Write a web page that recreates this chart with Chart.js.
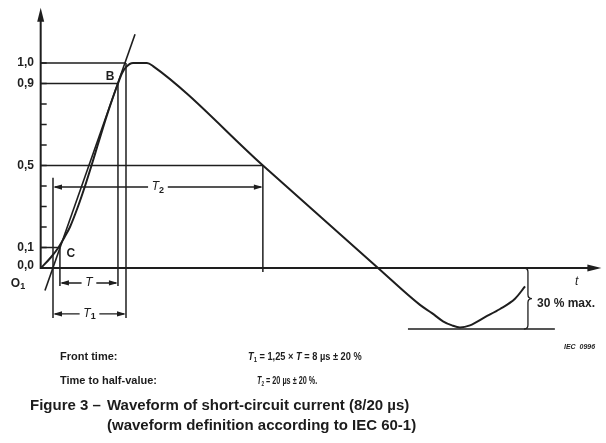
<!DOCTYPE html>
<html>
<head>
<meta charset="utf-8">
<script src="https://cdn.jsdelivr.net/npm/chart.js@4.4.1/dist/chart.umd.min.js"></script>
<style>
  body { margin: 0; background: #fff; }
  #wrap { position: relative; width: 606px; height: 443px; font-family: "Liberation Sans", Arial, sans-serif; color: #1c1c1c; }
  canvas { position: absolute; left: 0; top: 0; }
  .txt { position: absolute; white-space: nowrap; font-size: 11px; line-height: 13px; font-weight: bold; transform-origin: 0 50%; }
  .cap { position: absolute; white-space: nowrap; font-size: 15px; line-height: 17px; font-weight: bold; }
  .sub { font-size: 7px; position: relative; top: 2px; }
</style>
</head>
<body>
<div id="wrap">
  <canvas id="waveChart" width="606" height="443"></canvas>
  <div class="txt" style="left:60px;top:350px">Front time:</div>
  <div class="txt" style="left:248px;top:350px;transform:scaleX(0.84)"><i>T</i><span class="sub">1</span> = 1,25 × <i>T</i> = 8 µs ± 20 %</div>
  <div class="txt" style="left:60px;top:374px">Time to half-value:</div>
  <div class="txt" style="left:257px;top:374px;transform:scaleX(0.66)"><i>T</i><span class="sub">2</span> = 20 µs ± 20 %.</div>
  <div class="cap" style="left:30px;top:396px">Figure 3 –</div>
  <div class="cap" style="left:107px;top:396px">Waveform of short-circuit current (8/20 µs)</div>
  <div class="cap" style="left:107px;top:416px">(waveform definition according to IEC 60-1)</div>
</div>
<script>
// time in µs (O1 = 0), current in per-unit of peak
const waveT = [-1.32, -0.27, 0.6, 1.26, 1.86, 2.74, 3.51, 4.22, 4.9, 5.59, 6.32, 7.12, 7.56, 8.0,
  8.77, 9.53, 10.3, 10.96, 23.01, 35.62, 40.22, 41.53, 42.74, 43.73, 44.6, 45.7, 47.34, 48.99, 50.63, 51.73];
const waveI = [0, 0.05, 0.1, 0.15, 0.2, 0.3, 0.4, 0.5, 0.6, 0.7, 0.8, 0.9, 0.95, 0.98,
  1.0, 1.0, 1.0, 0.985, 0.5, 0, -0.18, -0.22, -0.26, -0.28, -0.29, -0.28, -0.24, -0.2, -0.15, -0.09];

// straight front line through C and B
const frontT = [-0.88, 8.99];
const frontI = [-0.11, 1.14];

const levelLabels = ['1,0', '0,9', '0,5', '0,1', '0,0'];
const levelValues = [1.0, 0.9, 0.5, 0.1, 0.0];
const levelEnds = [8.0, 7.12, 23.0, 0.76];   // where each level line stops
const minorTicks = [0.2, 0.3, 0.4, 0.6, 0.7, 0.8];

const tO1 = 0, tC = 0.76, tB = 7.12, tT1 = 8.0, tT2 = 23.0;
const undershoot = -0.298;          // 30 % max.
const undershootSpan = [38.9, 55.0];
const braceT = 52.05;

const tMin = -1.35, tMax = 60.1, iMin = -0.33, iMax = 1.27;

// rows of the dimension arrows
const rowT = -0.073, rowT1 = -0.224, rowT2 = 0.395;

function toPoints(xs, ys) {
  return xs.map(function (x, i) { return { x: x, y: ys[i] }; });
}

function buildGuides() {
  const pts = [];
  function seg(x1, y1, x2, y2) {
    pts.push({ x: x1, y: y1 }, { x: x2, y: y2 }, { x: x2, y: null });
  }
  levelEnds.forEach(function (end, i) {
    seg(tMin, levelValues[i], end, levelValues[i]);
  });
  seg(tB, 0.9, tB, rowT - 0.015);
  seg(tT1, 1.0, tT1, rowT1 - 0.02);
  seg(tT2, 0.5, tT2, -0.02);
  seg(tO1, 0.44, tO1, rowT1 - 0.02);
  seg(tC, 0.1, tC, rowT - 0.015);
  seg(undershootSpan[0], undershoot, undershootSpan[1], undershoot);
  return pts;
}

const ink = '#1e1e1e';
const FONT = '"Liberation Sans", Arial, sans-serif';

function arrowHead(ctx, x, y, dx, dy, len, half) {
  // tip at (x,y), pointing in direction (dx,dy)
  ctx.beginPath();
  ctx.moveTo(x, y);
  ctx.lineTo(x - dx * len - dy * half, y - dy * len + dx * half);
  ctx.lineTo(x - dx * len + dy * half, y - dy * len - dx * half);
  ctx.closePath();
  ctx.fill();
}

function labelWithSub(ctx, x, y, main, sub, size, italic) {
  ctx.font = (italic ? 'italic ' : 'bold ') + size + 'px ' + FONT;
  const w1 = ctx.measureText(main).width;
  let w2 = 0;
  if (sub) {
    ctx.font = 'bold ' + (size - 3) + 'px ' + FONT;
    w2 = ctx.measureText(sub).width;
  }
  const start = x - (w1 + w2) / 2;
  ctx.textAlign = 'left';
  ctx.textBaseline = 'middle';
  ctx.font = (italic ? 'italic ' : 'bold ') + size + 'px ' + FONT;
  ctx.fillText(main, start, y);
  if (sub) {
    ctx.font = 'bold ' + (size - 3) + 'px ' + FONT;
    ctx.fillText(sub, start + w1, y + 3);
  }
  return w1 + w2;
}

const figurePlugin = {
  id: 'figure',
  afterDatasetsDraw(chart) {
    const ctx = chart.ctx;
    const xs = chart.scales.x, ys = chart.scales.y;
    const px = function (v) { return xs.getPixelForValue(v); };
    const py = function (v) { return ys.getPixelForValue(v); };
    ctx.save();
    ctx.strokeStyle = ink;
    ctx.fillStyle = ink;
    ctx.lineCap = 'butt';

    // axes
    const x0 = px(tMin), y0 = py(0);
    ctx.lineWidth = 2;
    ctx.beginPath();
    ctx.moveTo(x0, y0 + 1);
    ctx.lineTo(x0, py(iMax) + 8);
    ctx.moveTo(x0, y0);
    ctx.lineTo(px(tMax) - 8, y0);
    ctx.stroke();
    arrowHead(ctx, x0, py(iMax), 0, -1, 14, 3.5);
    arrowHead(ctx, px(tMax), y0, 1, 0, 14, 3.5);

    // ticks
    ctx.lineWidth = 1.6;
    ctx.beginPath();
    minorTicks.concat(levelValues.slice(0, 4)).forEach(function (v) {
      ctx.moveTo(x0, py(v));
      ctx.lineTo(x0 + 6, py(v));
    });
    ctx.stroke();

    ctx.font = 'bold 12px ' + FONT;
    ctx.textAlign = 'right';
    ctx.textBaseline = 'middle';
    levelLabels.forEach(function (lab, i) {
      ctx.fillText(lab, 34, py(levelValues[i]) - (i === 4 ? 2 : 0));
    });
    labelWithSub(ctx, 18, 284, 'O', '1', 12, false);

    // point labels
    ctx.font = 'bold 12px ' + FONT;
    ctx.textAlign = 'center';
    ctx.fillText('B', px(tB) - 8, py(0.935));
    ctx.fillText('C', px(tC) + 11, py(0.07));

    // dimension arrows
    function dim(t1, t2, row, main, sub) {
      const a = px(t1), b = px(t2), y = py(row);
      const mid = (a + b) / 2;
      ctx.font = 'italic 11px ' + FONT;
      const w = ctx.measureText(main).width + (sub ? 5 : 0) + 8;
      ctx.lineWidth = 1.4;
      ctx.beginPath();
      ctx.moveTo(a + 2, y);
      ctx.lineTo(mid - w / 2, y);
      ctx.moveTo(mid + w / 2, y);
      ctx.lineTo(b - 2, y);
      ctx.stroke();
      arrowHead(ctx, a, y, -1, 0, 9, 2.6);
      arrowHead(ctx, b, y, 1, 0, 9, 2.6);
      labelWithSub(ctx, mid, y, main, sub, 12, true);
    }
    dim(tC, tB, rowT, 'T', '');
    dim(tO1, tT1, rowT1, 'T', '1');
    dim(tO1, tT2, rowT2, 'T', '2');

    // undershoot brace
    const bx = px(braceT), top = py(0), bot = py(undershoot), mid = (top + bot) / 2, r = 4;
    ctx.lineWidth = 1.3;
    ctx.beginPath();
    ctx.moveTo(bx - r, top);
    ctx.quadraticCurveTo(bx, top, bx, top + r);
    ctx.lineTo(bx, mid - r);
    ctx.quadraticCurveTo(bx, mid, bx + r, mid);
    ctx.quadraticCurveTo(bx, mid, bx, mid + r);
    ctx.lineTo(bx, bot - r);
    ctx.quadraticCurveTo(bx, bot, bx - r, bot);
    ctx.stroke();

    ctx.textAlign = 'left';
    ctx.font = 'bold 12px ' + FONT;
    ctx.fillText('30 % max.', 537, mid + 5);
    ctx.font = 'italic 12px ' + FONT;
    ctx.fillText('t', 575, y0 + 14);
    ctx.font = 'italic bold 7px ' + FONT;
    ctx.fillText('IEC  0996', 564, 347);
    ctx.restore();
  }
};

new Chart(document.getElementById('waveChart'), {
  type: 'line',
  data: {
    datasets: [
      {
        label: 'Waveform',
        data: toPoints(waveT, waveI),
        borderColor: ink,
        borderWidth: 2,
        cubicInterpolationMode: 'monotone',
        pointRadius: 0,
        fill: false
      },
      {
        label: 'Front line',
        data: toPoints(frontT, frontI),
        borderColor: ink,
        borderWidth: 1.6,
        pointRadius: 0,
        fill: false
      },
      {
        label: 'Guides',
        data: buildGuides(),
        borderColor: ink,
        borderWidth: 1.5,
        pointRadius: 0,
        spanGaps: false,
        fill: false
      }
    ]
  },
  options: {
    responsive: false,
    animation: false,
    devicePixelRatio: 1,
    layout: { padding: { left: 40.68, right: 4.6, top: 7.65, bottom: 107.35 } },
    plugins: { legend: { display: false }, tooltip: { enabled: false }, title: { display: false } },
    scales: {
      x: { type: 'linear', min: tMin, max: tMax, display: false },
      y: { type: 'linear', min: iMin, max: iMax, display: false }
    }
  },
  plugins: [figurePlugin]
});
</script>
</body>
</html>
